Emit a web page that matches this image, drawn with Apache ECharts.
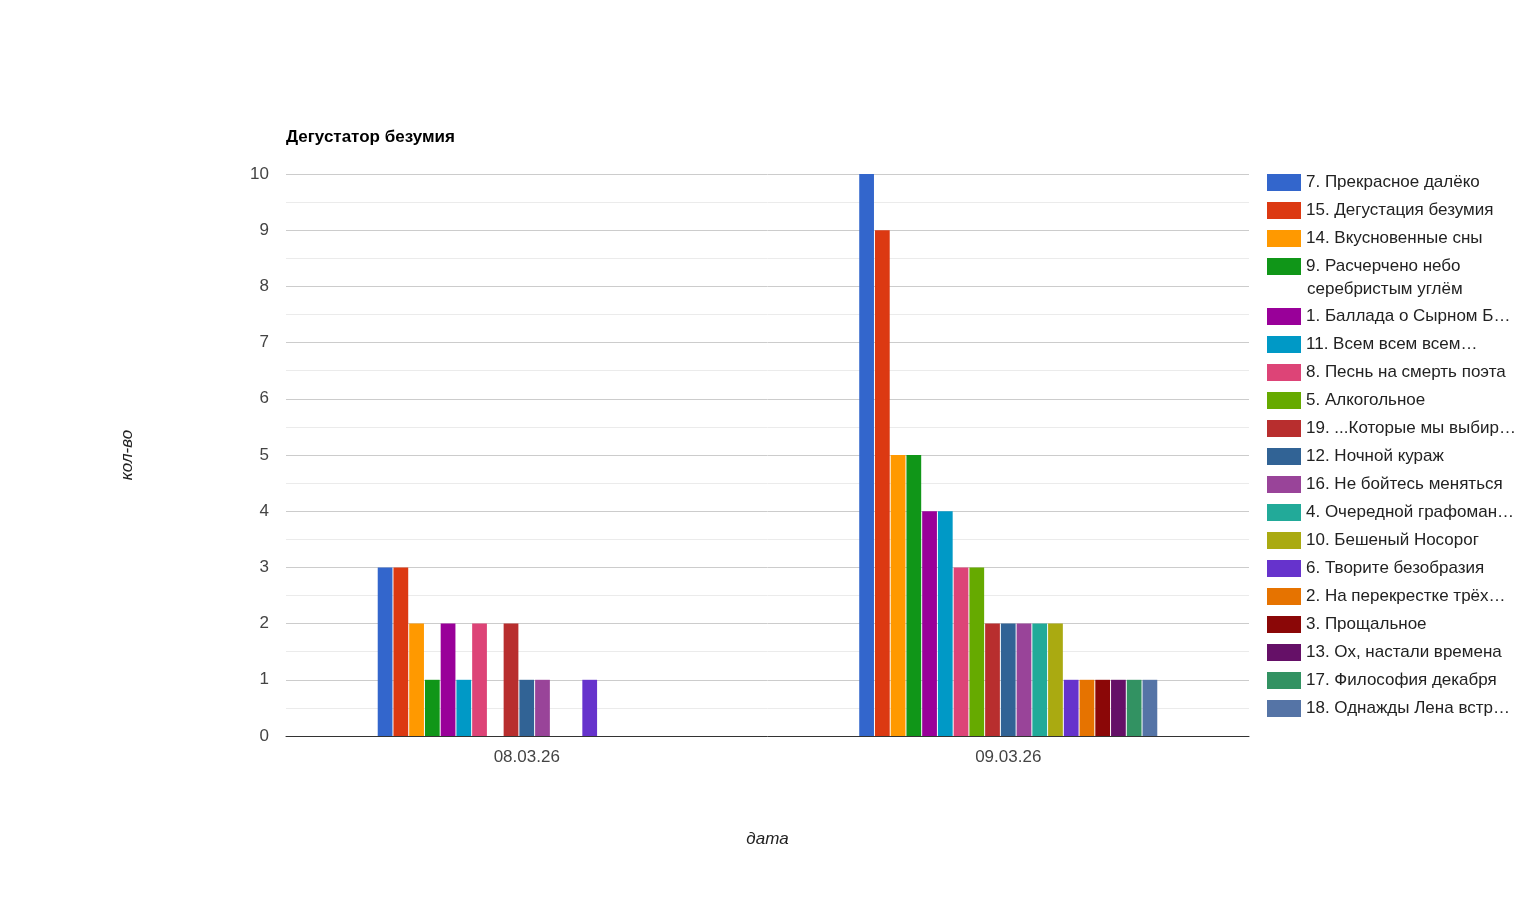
<!DOCTYPE html>
<html>
<head>
<meta charset="utf-8">
<script src="https://cdn.jsdelivr.net/npm/echarts@6/dist/echarts.min.js"></script>
<style>
html,body{margin:0;padding:0;background:#fff;}
#chart{width:1535px;height:911px;}
</style>
</head>
<body>
<div id="chart"></div>
<script>
const categories = ['08.03.26', '09.03.26'];
const seriesNames = [
  '7. Прекрасное далёко',
  '15. Дегустация безумия',
  '14. Вкусновенные сны',
  '9. Расчерчено небо',
  '1. Баллада о Сырном Б…',
  '11. Всем всем всем…',
  '8. Песнь на смерть поэта',
  '5. Алкогольное',
  '19. ...Которые мы выбир…',
  '12. Ночной кураж',
  '16. Не бойтесь меняться',
  '4. Очередной графоман…',
  '10. Бешеный Носорог',
  '6. Творите безобразия',
  '2. На перекрестке трёх…',
  '3. Прощальное',
  '13. Ох, настали времена',
  '17. Философия декабря',
  '18. Однажды Лена встр…'
];
const day1Values = [3, 3, 2, 1, 2, 1, 2, 0, 2, 1, 1, 0, 0, 1, 0, 0, 0, 0, 0];
const day2Values = [10, 9, 5, 5, 4, 4, 3, 3, 2, 2, 2, 2, 2, 1, 1, 1, 1, 1, 1];
const colors = ['#3366cc','#dc3912','#ff9900','#109618','#990099','#0099c6','#dd4477','#66aa00','#b82e2e','#316395','#994499','#22aa99','#aaaa11','#6633cc','#e67300','#8b0707','#651067','#329262','#5574a6'];
const wrapLine = 'серебристым углём';
const titleText = 'Дегустатор безумия';
const xTitle = 'дата';
const yTitle = 'кол-во';

const FONT = 'Arial, "Liberation Sans", sans-serif';
const chart = echarts.init(document.getElementById('chart'));

const series = seriesNames.map((name, i) => ({
  name: name,
  type: 'bar',
  data: [day1Values[i], day2Values[i]],
  itemStyle: { color: colors[i] },
  barGap: '6.7%',
  barCategoryGap: '38.1%',
  emphasis: { disabled: true }
}));

const legendCommon = {
  orient: 'vertical',
  left: 1267,
  padding: 0,
  itemWidth: 34,
  itemHeight: 17,
  itemGap: 11,
  icon: 'rect',
  textStyle: { fontFamily: FONT, fontSize: 17, color: '#222', lineHeight: 17 }
};

const option = {
  animation: false,
  color: colors,
  title: {
    text: titleText,
    left: 286,
    top: 128,
    padding: 0,
    textStyle: { fontFamily: FONT, fontSize: 17, fontWeight: 'bold', color: '#000', lineHeight: 19 }
  },
  legend: [
    Object.assign({}, legendCommon, { top: 174, data: seriesNames.slice(0, 4) }),
    Object.assign({}, legendCommon, { top: 308, data: seriesNames.slice(4) })
  ],
  graphic: [{
    type: 'text',
    left: 1307,
    top: 281,
    style: { text: wrapLine, fontFamily: FONT, fontSize: 17, fill: '#222' }
  }],
  grid: { left: 286, right: 286, top: 174, bottom: 175, containLabel: false },
  xAxis: {
    type: 'category',
    data: categories,
    name: xTitle,
    nameLocation: 'middle',
    nameGap: 95,
    nameTextStyle: { fontFamily: FONT, fontSize: 17, fontStyle: 'italic', color: '#222' },
    axisTick: { show: false },
    axisLine: { show: true, lineStyle: { color: '#333', width: 1 } },
    axisLabel: { fontFamily: FONT, fontSize: 17, color: '#444', margin: 13 },
    splitLine: { show: false }
  },
  yAxis: {
    type: 'value',
    min: 0,
    max: 10,
    interval: 1,
    name: yTitle,
    nameLocation: 'middle',
    nameRotate: 90,
    nameGap: 150,
    nameTextStyle: { fontFamily: FONT, fontSize: 17, fontStyle: 'italic', color: '#222' },
    axisLine: { show: false },
    axisTick: { show: false },
    axisLabel: { fontFamily: FONT, fontSize: 17, color: '#444', margin: 17 },
    splitLine: { show: true, lineStyle: { color: '#cccccc', width: 1 } },
    minorTick: { show: false, splitNumber: 2 },
    minorSplitLine: { show: true, lineStyle: { color: '#ebebeb', width: 1 } }
  },
  series: series
};
chart.setOption(option);
</script>
</body>
</html>
